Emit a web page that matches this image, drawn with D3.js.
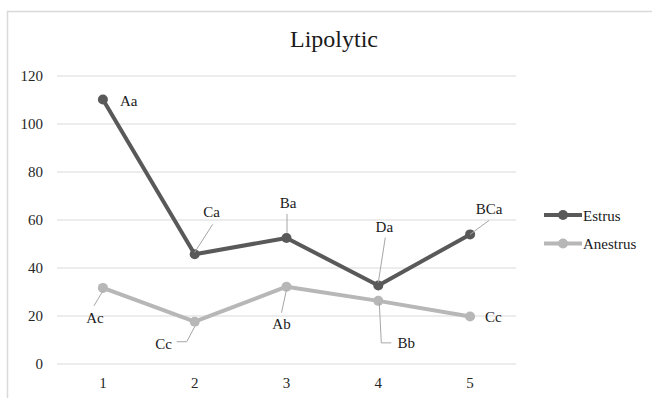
<!DOCTYPE html>
<html>
<head>
<meta charset="utf-8">
<script src="https://cdn.jsdelivr.net/npm/d3@7"></script>
<style>
  html, body { margin: 0; padding: 0; background: #fff; }
  svg text { font-family: "Liberation Serif", "Times New Roman", Times, "DejaVu Serif", serif !important; }
</style>
</head>
<body>
<div id="chart"></div>
<script>
const categories = ['1', '2', '3', '4', '5'];
const estrus = [110, 45.5, 52.3, 32.5, 53.8];
const anestrus = [31.5, 17.4, 32, 26.1, 19.6];
const estrusLabels = ['Aa', 'Ca', 'Ba', 'Da', 'BCa'];
const anestrusLabels = ['Ac', 'Cc', 'Ab', 'Bb', 'Cc'];
const yTicks = [0, 20, 40, 60, 80, 100, 120];
const seriesNames = ['Estrus', 'Anestrus'];

// where each data label sits relative to its point, and its leader line
const estrusLabelPos = [
  { dx: 17, dy: 6, anchor: 'start', leader: null },
  { dx: 17, dy: -37, anchor: 'middle', leader: [[0, -2], [18, -30]] },
  { dx: 1.5, dy: -30, anchor: 'middle', leader: [[0.5, -5], [0.5, -24]] },
  { dx: 6, dy: -53.5, anchor: 'middle', leader: [[0, -3], [7, -48]] },
  { dx: 19, dy: -20, anchor: 'middle', leader: [[0, 0], [19, -14]] }
];
const anestrusLabelPos = [
  { dx: -8, dy: 35, anchor: 'middle', leader: [[0, 3], [-9, 18]] },
  { dx: -31, dy: 27.5, anchor: 'middle', leader: [[0, 5], [-8, 20], [-18, 20]] },
  { dx: -5, dy: 42, anchor: 'middle', leader: [[0, 3], [-5, 26]] },
  { dx: 28, dy: 47, anchor: 'middle', leader: [[1, 2], [3, 42], [13, 42]] },
  { dx: 15, dy: 6, anchor: 'start', leader: null }
];

const width = 652;
const height = 398;
const serif = '"Liberation Serif", "Times New Roman", Times, "DejaVu Serif", serif';
const colors = { Estrus: '#595959', Anestrus: '#b7b7b7' };

const svg = d3.select('#chart').append('svg')
    .attr('width', width)
    .attr('height', height)
    .style('display', 'block');

// chart frame (runs off the right and bottom edge)
svg.append('rect')
    .attr('x', 7.5)
    .attr('y', 11.5)
    .attr('width', 700)
    .attr('height', 500)
    .attr('fill', 'none')
    .attr('stroke', '#d9d9d9')
    .attr('stroke-width', 1.5);

const x = d3.scaleBand()
    .domain(categories)
    .range([57, 516]);

const y = d3.scaleLinear()
    .domain([0, 120])
    .range([363.5, 75.5]);

// Title
svg.append('text')
    .text('Lipolytic')
    .attr('x', 334)
    .attr('y', 47)
    .attr('text-anchor', 'middle')
    .attr('font-family', serif)
    .style('font-size', '24px')
    .attr('fill', '#1a1a1a');

// gridlines + y tick labels
const yAxis = svg.append('g')
    .attr('transform', `translate(${x.range()[0]},0)`)
    .call(d3.axisLeft(y).tickValues(yTicks).tickSize(-(x.range()[1] - x.range()[0])).tickPadding(14))
    .attr('font-family', serif);
yAxis.select('.domain').remove();
yAxis.selectAll('.tick line').attr('stroke', '#d9d9d9').attr('stroke-width', 1);
yAxis.selectAll('.tick text')
    .attr('fill', '#262626')
    .style('font-size', '15px');

// x tick labels
const xAxis = svg.append('g')
    .attr('transform', `translate(0,${y(0)})`)
    .call(d3.axisBottom(x).tickSize(0).tickPadding(14))
    .attr('font-family', serif);
xAxis.select('.domain').remove();
xAxis.selectAll('.tick text')
    .attr('fill', '#262626')
    .style('font-size', '15px');

const cx = c => x(c) + x.bandwidth() / 2;

function drawSeries(name, values, labels, labelPos) {
  const color = colors[name];
  const pts = categories.map((c, i) => [cx(c), y(values[i])]);
  const g = svg.append('g').attr('font-family', serif);

  g.append('path')
      .datum(pts)
      .attr('d', d3.line())
      .attr('fill', 'none')
      .attr('stroke', color)
      .attr('stroke-width', 4)
      .attr('stroke-linejoin', 'round')
      .attr('stroke-linecap', 'round');

  g.selectAll('circle')
      .data(pts)
      .enter()
      .append('circle')
      .attr('cx', d => d[0])
      .attr('cy', d => d[1])
      .attr('r', 5)
      .attr('fill', color);

  pts.forEach((p, i) => {
    const pos = labelPos[i];
    if (pos.leader) {
      g.append('path')
          .attr('d', d3.line()(pos.leader.map(q => [p[0] + q[0], p[1] + q[1]])))
          .attr('fill', 'none')
          .attr('stroke', '#a6a6a6')
          .attr('stroke-width', 1);
    }
    g.append('text')
        .text(labels[i])
        .attr('x', p[0] + pos.dx)
        .attr('y', p[1] + pos.dy)
        .attr('text-anchor', pos.anchor)
        .style('font-size', '15px')
        .attr('fill', '#1a1a1a');
  });
}

drawSeries('Anestrus', anestrus, anestrusLabels, anestrusLabelPos);
drawSeries('Estrus', estrus, estrusLabels, estrusLabelPos);

// Legend
const legend = svg.append('g').attr('font-family', serif);
seriesNames.forEach((name, i) => {
  const ly = 215 + i * 28.5;
  legend.append('line')
      .attr('x1', 544).attr('x2', 582)
      .attr('y1', ly).attr('y2', ly)
      .attr('stroke', colors[name])
      .attr('stroke-width', 4);
  legend.append('circle')
      .attr('cx', 563).attr('cy', ly).attr('r', 5)
      .attr('fill', colors[name]);
  legend.append('text')
      .text(name)
      .attr('x', 583)
      .attr('y', ly + 5.5)
      .style('font-size', '15px')
      .attr('fill', '#1a1a1a');
});
</script>
</body>
</html>
